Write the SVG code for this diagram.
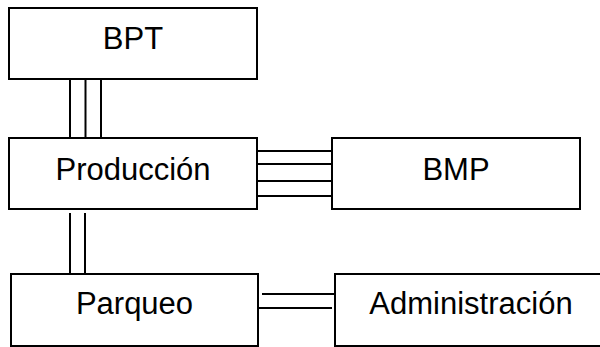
<svg xmlns="http://www.w3.org/2000/svg" width="600" height="347" viewBox="0 0 600 347">
<style>
.box{fill:#fff;stroke:#000;stroke-width:2}
.lbl{font-family:"Liberation Sans",Arial,sans-serif;font-size:31px;fill:#000;text-anchor:middle}
.ln{stroke:#000;stroke-width:2;fill:none}
</style>
<rect width="600" height="347" fill="#fff"/>
<g id="connectors">
<line class="ln" x1="70" y1="79" x2="70" y2="137"/>
<line class="ln" x1="85.5" y1="79" x2="85.5" y2="137"/>
<line class="ln" x1="101" y1="79" x2="101" y2="137"/>
<line class="ln" x1="257" y1="151" x2="332" y2="151"/>
<line class="ln" x1="257" y1="164" x2="332" y2="164"/>
<line class="ln" x1="257" y1="181" x2="334" y2="181"/>
<line class="ln" x1="257" y1="196" x2="334" y2="196"/>
<line class="ln" x1="70" y1="213" x2="70" y2="273"/>
<line class="ln" x1="85" y1="213" x2="85" y2="273"/>
<line class="ln" x1="262" y1="294" x2="335" y2="294"/>
<line class="ln" x1="256" y1="308" x2="332" y2="308"/>
</g>
<g id="bpt">
<rect class="box" x="9" y="8" width="248" height="71"/>
<text class="lbl" x="133" y="49">BPT</text>
</g>
<g id="produccion">
<rect class="box" x="9" y="138" width="248" height="71"/>
<text class="lbl" x="133" y="180">Producción</text>
</g>
<g id="bmp">
<rect class="box" x="332" y="138" width="248" height="71"/>
<text class="lbl" x="456" y="180">BMP</text>
</g>
<g id="parqueo">
<rect class="box" x="11" y="274" width="247" height="72"/>
<text class="lbl" x="134.5" y="314">Parqueo</text>
</g>
<g id="administracion">
<rect class="box" x="335" y="274" width="275" height="72"/>
<text class="lbl" x="471" y="314">Administración</text>
</g>
</svg>
